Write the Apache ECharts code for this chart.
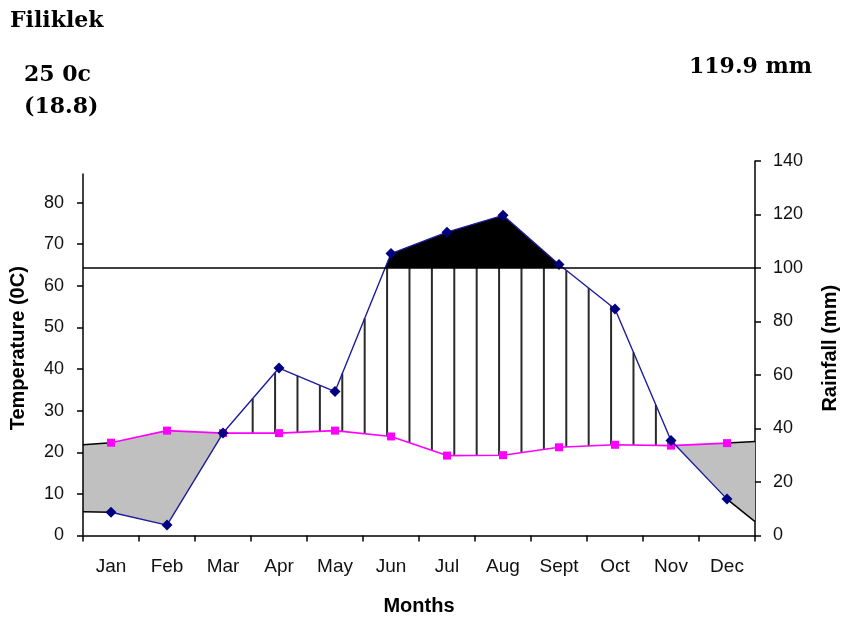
<!DOCTYPE html>
<html>
<head>
<meta charset="utf-8">
<script src="https://cdn.jsdelivr.net/npm/echarts@6/dist/echarts.min.js"></script>
<style>
html, body { margin: 0; padding: 0; background: #fff; }
#chart { width: 842px; height: 619px; }
</style>
</head>
<body>
<div id="chart"></div>
<script>
var months = ['Jan', 'Feb', 'Mar', 'Apr', 'May', 'Jun', 'Jul', 'Aug', 'Sept', 'Oct', 'Nov', 'Dec'];
var temperature = [22.3, 25.2, 24.6, 24.6, 25.2, 23.8, 19.2, 19.3, 21.2, 21.8, 21.6, 22.2];
var rainfall = [8.7, 3.9, 38.3, 62.6, 53.8, 105.4, 113.4, 119.7, 101.3, 84.7, 35.5, 13.6];
// where the two curves meet the left and right axes
var temperatureEdges = [21.8, 22.6];
var rainfallEdges = [8.9, 5.2];
var tempTicks = [0, 10, 20, 30, 40, 50, 60, 70, 80];
var rainTicks = [0, 20, 40, 60, 80, 100, 120, 140];
var wetLimit = 100;

var TEMP_MAX = 90, RAIN_MAX = 140;
var LEFT_AXIS_TOP = 87; // left axis line stops short of the top
var rainScale = TEMP_MAX / RAIN_MAX; // mm -> left axis units

function curve(edges, values, scale) {
    var pts = [[0, edges[0] * scale]];
    values.forEach(function (v, i) { pts.push([i + 0.5, v * scale]); });
    pts.push([months.length, edges[1] * scale]);
    return pts;
}
var tempCurve = curve(temperatureEdges, temperature, 1);
var rainCurve = curve(rainfallEdges, rainfall, rainScale);
var breaks = tempCurve.map(function (p) { return p[0]; });

function valueAt(pts, x) {
    for (var i = 1; i < pts.length; i++) {
        if (x <= pts[i][0]) {
            var a = pts[i - 1], b = pts[i];
            return a[1] + (b[1] - a[1]) * (x - a[0]) / (b[0] - a[0]);
        }
    }
    return pts[pts.length - 1][1];
}
function tempAt(x) { return valueAt(tempCurve, x); }
function rainAt(x) { return valueAt(rainCurve, x); }
function limitAt() { return wetLimit * rainScale; }

// runs of x where upper(x) > lower(x), with exact crossings
function runs(upper, lower) {
    var out = [], cur = null;
    for (var i = 0; i < breaks.length; i++) {
        var x = breaks[i], d = upper(x) - lower(x);
        if (i > 0) {
            var px = breaks[i - 1], pd = upper(px) - lower(px);
            if ((pd > 0) !== (d > 0) && pd !== d) {
                var cx = px + (x - px) * pd / (pd - d);
                if (cur) { cur.push(cx); out.push(cur); cur = null; }
                else cur = [cx];
            }
        }
        if (d > 0) { if (!cur) cur = [x]; else cur.push(x); }
    }
    if (cur) out.push(cur);
    return out;
}

function seg(api, a, b, color, width) {
    var p = api.coord(a), q = api.coord(b);
    return { type: 'line', shape: { x1: p[0], y1: p[1], x2: q[0], y2: q[1] },
        style: { stroke: color, lineWidth: width } };
}

function renderFills(params, api) {
    var children = [];
    function polys(upper, lower, fill) {
        runs(upper, lower).forEach(function (xs) {
            var pts = xs.map(function (x) { return api.coord([x, upper(x)]); });
            xs.slice().reverse().forEach(function (x) { pts.push(api.coord([x, lower(x)])); });
            children.push({ type: 'polygon', shape: { points: pts }, style: { fill: fill } });
        });
    }
    // dry season (temperature above rainfall)
    polys(tempAt, rainAt, '#c0c0c0');
    // very wet season (rain above 100 mm)
    polys(rainAt, limitAt, '#000');
    // humid season hatching
    for (var x = 0.23; x < months.length; x += 0.4) {
        var top = Math.min(rainAt(x), limitAt());
        var bottom = tempAt(x);
        if (top - bottom < 2.5) continue;
        children.push(seg(api, [x, top], [x, bottom], '#2a2a2a', 2));
    }
    // black edges of the curves out to the axes
    [tempCurve, rainCurve].forEach(function (c) {
        children.push(seg(api, c[0], c[1], '#000', 1.5));
        children.push(seg(api, c[c.length - 2], c[c.length - 1], '#000', 1.5));
    });
    // left axis line
    children.push(seg(api, [0, 0], [0, LEFT_AXIS_TOP], '#000', 1.5));
    return { type: 'group', children: children };
}

var labelFont = { fontFamily: 'Liberation Sans', fontSize: 18, color: '#111' };
var nameFont = { fontFamily: 'Liberation Sans', fontSize: 20, fontWeight: 'bold', color: '#000' };
var axisLine = { show: true, lineStyle: { color: '#000', width: 1.5 } };
var axisTick = { show: true, length: 6, lineStyle: { color: '#000', width: 1.5 } };
var serif = 'bold 22px "DejaVu Serif"';

var myChart = echarts.init(document.getElementById('chart'));
option = {
    animation: false,
    backgroundColor: '#fff',
    grid: { left: 83, right: 87, top: 161, bottom: 83.5, outerBoundsMode: 'none', containLabel: false },
    graphic: [
        { type: 'text', x: 10, y: 21, style: { text: 'Filiklek', font: serif, fill: '#000', verticalAlign: 'middle' } },
        { type: 'text', x: 24, y: 75, style: { text: '25 0c', font: serif, fill: '#000', verticalAlign: 'middle' } },
        { type: 'text', x: 24, y: 107, style: { text: '(18.8)', font: serif, fill: '#000', verticalAlign: 'middle' } },
        { type: 'text', x: 689, y: 67, style: { text: '119.9 mm', font: serif, fill: '#000', verticalAlign: 'middle' } }
    ],
    xAxis: [
        {
            type: 'category',
            data: months,
            boundaryGap: true,
            name: 'Months',
            nameLocation: 'middle',
            nameGap: 61,
            nameTextStyle: nameFont,
            axisLine: axisLine,
            axisTick: axisTick,
            axisLabel: Object.assign({ margin: 22 }, labelFont, { fontSize: 19 }),
            splitLine: { show: false }
        },
        { type: 'value', min: 0, max: months.length, show: false, splitLine: { show: false } }
    ],
    yAxis: [
        {
            type: 'value',
            position: 'left',
            min: 0,
            max: TEMP_MAX,
            interval: 10,
            name: 'Temperature (0C)',
            nameLocation: 'middle',
            nameRotate: 90,
            nameGap: 55,
            nameTextStyle: nameFont,
            axisLine: { show: false },
            axisTick: Object.assign({ customValues: tempTicks }, axisTick),
            axisLabel: Object.assign({ margin: 19, customValues: tempTicks }, labelFont),
            splitLine: { show: false }
        },
        {
            type: 'value',
            position: 'right',
            min: 0,
            max: RAIN_MAX,
            interval: 20,
            name: 'Rainfall (mm)',
            nameLocation: 'middle',
            nameRotate: 90,
            nameGap: 65,
            nameTextStyle: nameFont,
            axisLine: axisLine,
            axisTick: Object.assign({ customValues: rainTicks }, axisTick),
            axisLabel: Object.assign({ margin: 18, customValues: rainTicks }, labelFont),
            splitLine: { show: false }
        }
    ],
    series: [
        {
            type: 'custom',
            xAxisIndex: 1,
            yAxisIndex: 0,
            silent: true,
            z: 1,
            data: [0],
            renderItem: renderFills
        },
        {
            name: 'Temperature',
            type: 'line',
            xAxisIndex: 1,
            yAxisIndex: 0,
            z: 3,
            symbol: 'rect',
            symbolSize: 8,
            itemStyle: { color: '#ff00ff' },
            lineStyle: { color: '#ff00ff', width: 1.6 },
            data: temperature.map(function (v, i) { return [i + 0.5, v]; })
        },
        {
            name: 'Rainfall',
            type: 'line',
            xAxisIndex: 1,
            yAxisIndex: 1,
            z: 4,
            symbol: 'diamond',
            symbolSize: 11,
            itemStyle: { color: '#000080' },
            lineStyle: { color: '#1c1c9c', width: 1.4 },
            data: rainfall.map(function (v, i) { return [i + 0.5, v]; }),
            markLine: {
                silent: true,
                symbol: 'none',
                label: { show: false },
                lineStyle: { color: '#000', width: 1.5, type: 'solid' },
                data: [{ yAxis: wetLimit }]
            }
        }
    ]
};
myChart.setOption(option);
</script>
</body>
</html>
